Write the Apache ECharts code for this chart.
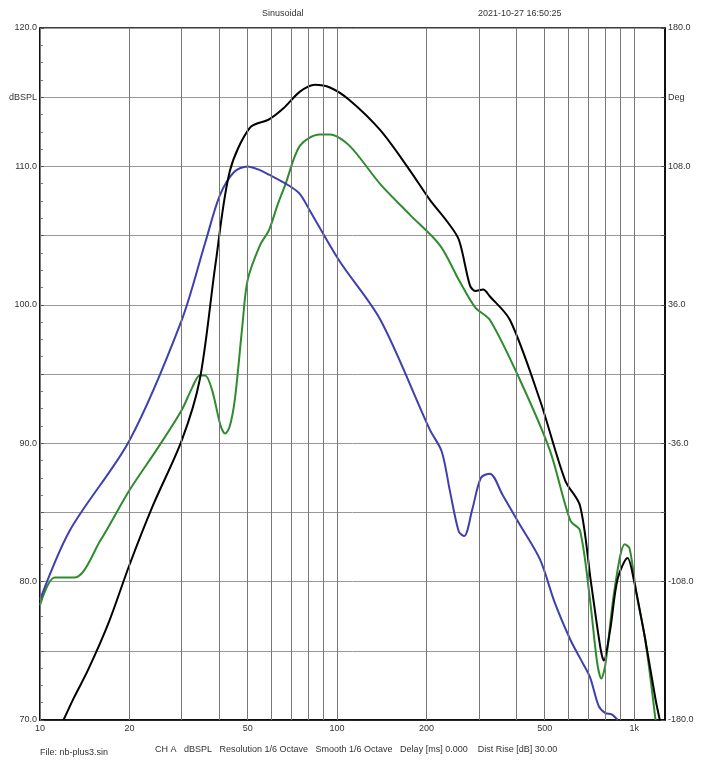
<!DOCTYPE html><html><head><meta charset="utf-8">
<script src="https://cdn.jsdelivr.net/npm/echarts@6/dist/echarts.min.js"></script>
<style>html,body{margin:0;background:#fff}#c{width:705px;height:776px}</style></head><body><div id="c"></div><script>
const blackCurve=[[12,70],[13,71.6],[14.5,73.6],[17,77],[20,81.2],[24,85.5],[30,90.2],[34.5,94.6],[39,103],[43.6,109.7],[50.9,112.8],[59,113.4],[66,114.2],[75,115.4],[84.2,115.9],[94.6,115.7],[110,114.8],[140,112.6],[176,109.7],[205,107.6],[235,106],[257,104.7],[280,101.4],[292,101],[310,101.1],[327,100.6],[382,98.9],[482,93.1],[586,87.3],[657,85.5],[715,80],[770,75.2],[790,74.3],[830,76.5],[880,80.2],[950,81.7],[1000,80],[1090,75.8],[1180,71.5],[1220,70]];
const blueCurve=[[10,78.7],[12.6,83.7],[20,90.2],[30,98.9],[36,104.5],[40.3,107.9],[45,109.6],[50,110],[54,109.8],[59,109.4],[69,108.6],[75,108],[81,106.8],[101.6,103.2],[140,98.9],[205,91],[225,89.4],[240,86.5],[257,83.6],[268,83.3],[285,85.2],[305,87.5],[327,87.8],[360,86.3],[410,84.2],[482,81.6],[540,78.5],[610,75.8],[660,74.4],[710,73.1],[760,71],[800,70.5],[840,70.4],[880,70]];
const greenCurve=[[10,78.3],[11.2,80.3],[13.1,80.3],[16,83],[20,86.6],[25,89.7],[30,92.4],[32.5,94],[34.5,94.9],[36,94.9],[38,93.8],[40.5,91.3],[42,90.7],[43.5,91.2],[45.3,93.2],[48,98.5],[50,101.8],[55,104.3],[59,105.4],[63,107.2],[67,108.7],[75,111.5],[87.4,112.3],[94.6,112.3],[110,111.5],[140,108.7],[176,106.5],[222,104.3],[257,101.8],[292,99.8],[327,98.9],[412,94.6],[520,89.5],[610,84.4],[657,83.7],[710,78.7],[750,74.2],[775,73],[800,74],[860,79.5],[930,82.7],[965,82.4],[1020,79],[1090,75.8],[1180,70]];
const gridFreqs=[10,20,30,40,50,60,70,80,90,100,200,300,400,500,600,700,800,900,1000];
const labeledFreqs={10:'10',20:'20',50:'50',100:'100',200:'200',500:'500',1000:'1k'};
const leftLabels={120:'120.0',115:'dBSPL',110:'110.0',100:'100.0',90:'90.0',80:'80.0',70:'70.0'};
const rightLabels={180:'180.0',144:'Deg',108:'108.0',36:'36.0','-36':'-36.0','-108':'-108.0','-180':'-180.0'};
const F='Liberation Sans, Arial, sans-serif';
const ch=echarts.init(document.getElementById('c'));
const line=(d,c)=>({type:'line',data:d,showSymbol:false,smooth:0.3,lineStyle:{color:c,width:2},itemStyle:{color:c},clip:true,z:3});
ch.setOption({
 animation:false,
 grid:{left:40,right:40,top:28,bottom:56,show:true,borderColor:'#000',borderWidth:1.5},
 xAxis:{type:'log',logBase:10,min:10,max:1270,axisLabel:{show:false},axisTick:{show:false},splitLine:{show:false},axisLine:{onZero:false,lineStyle:{color:'#000',width:1.5}}},
 yAxis:[{type:'value',min:70,max:120,interval:5,position:'left',
   axisLine:{show:true,onZero:false,lineStyle:{color:'#000',width:1.5}},axisTick:{show:true,inside:true,length:4,lineStyle:{color:'#555'}},
   minorTick:{show:true,splitNumber:4,length:3,lineStyle:{color:'#777'}},
   axisLabel:{fontFamily:F,fontSize:9,color:'#333',margin:3,formatter:v=>leftLabels[v]||''},
   splitLine:{lineStyle:{color:'#999',width:1}}},
  {type:'value',min:-180,max:180,interval:36,position:'right',
   axisLine:{show:true,onZero:false,lineStyle:{color:'#000',width:1.5}},axisTick:{show:true,inside:true,length:4,lineStyle:{color:'#555'}},
   axisLabel:{fontFamily:F,fontSize:9,color:'#333',margin:3,formatter:v=>rightLabels[v]||''},splitLine:{show:false}}],
 series:[
  {type:'line',data:[],markLine:{silent:true,symbol:'none',animation:false,
    lineStyle:{color:'#777',width:1,type:'solid'},
    data:gridFreqs.map(f=>({xAxis:f,label:{show:!!labeledFreqs[f],position:'start',formatter:labeledFreqs[f]||'',fontFamily:F,fontSize:9,color:'#333',distance:4}}))}},
  line(greenCurve,'#2e8b2e'),line(blueCurve,'#3f3fb0'),line(blackCurve,'#000')
 ],
 graphic:[
  {type:'text',left:262,top:9,style:{text:'Sinusoidal',font:'9px '+F,fill:'#333'}},
  {type:'text',left:478,top:9,style:{text:'2021-10-27 16:50:25',font:'9px '+F,fill:'#333'}},
  {type:'text',left:40,top:748,style:{text:'File: nb-plus3.sin',font:'9px '+F,fill:'#333'}},
  {type:'text',left:155,top:745,style:{text:'CH A   dBSPL   Resolution 1/6 Octave   Smooth 1/6 Octave   Delay [ms] 0.000    Dist Rise [dB] 30.00',font:'9px '+F,fill:'#333'}}
 ]
});
</script></body></html>
